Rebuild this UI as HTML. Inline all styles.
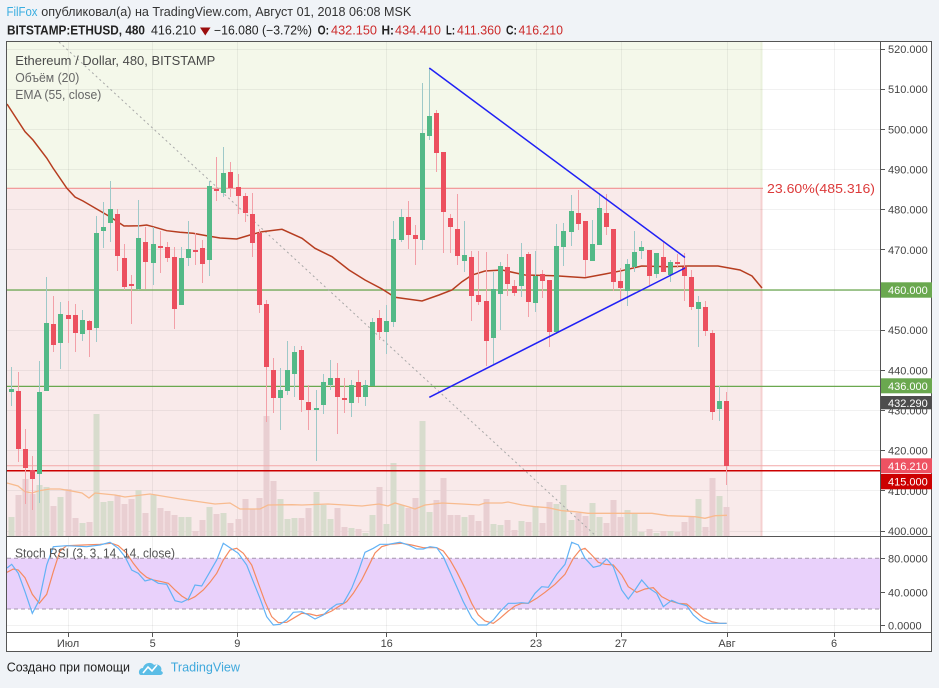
<!DOCTYPE html>
<html><head><meta charset="utf-8"><style>
html,body{margin:0;padding:0;background:#f0f3f7;}
svg{display:block;font-family:"Liberation Sans","Noto Sans CJK JP",sans-serif;}
</style></head><body>
<svg width="939" height="688" viewBox="0 0 939 688" xmlns="http://www.w3.org/2000/svg">
<rect x="0" y="0" width="939" height="688" fill="#f0f3f7"/>
<!-- header -->
<text x="6.5" y="16" font-size="12.5" fill="#3aaee0" textLength="31" lengthAdjust="spacingAndGlyphs">FilFox</text>
<text x="41.3" y="16" font-size="12.5" fill="#333" textLength="370" lengthAdjust="spacingAndGlyphs">опубликовал(а) на TradingView.com, Август 01, 2018 06:08 MSK</text>
<text x="7" y="34.3" font-size="12.5" font-weight="bold" fill="#222" textLength="138" lengthAdjust="spacingAndGlyphs">BITSTAMP:ETHUSD, 480</text>
<text x="151" y="34.3" font-size="12.5" fill="#222" textLength="45" lengthAdjust="spacingAndGlyphs">416.210</text>
<polygon points="200,27.5 210.5,27.5 205.25,35.5" fill="#9b0d0d"/>
<text x="214" y="34.3" font-size="12.5" fill="#222" textLength="98" lengthAdjust="spacingAndGlyphs">−16.080 (−3.72%)</text>
<text x="317.6" y="34.3" font-size="12.5" font-weight="bold" fill="#222" textLength="11.4" lengthAdjust="spacingAndGlyphs">O:</text>
<text x="331" y="34.3" font-size="12.5" fill="#cc2a2a" textLength="46" lengthAdjust="spacingAndGlyphs">432.150</text>
<text x="381.5" y="34.3" font-size="12.5" font-weight="bold" fill="#222" textLength="12.5" lengthAdjust="spacingAndGlyphs">H:</text>
<text x="395" y="34.3" font-size="12.5" fill="#cc2a2a" textLength="46" lengthAdjust="spacingAndGlyphs">434.410</text>
<text x="446" y="34.3" font-size="12.5" font-weight="bold" fill="#222" textLength="9" lengthAdjust="spacingAndGlyphs">L:</text>
<text x="457" y="34.3" font-size="12.5" fill="#cc2a2a" textLength="44" lengthAdjust="spacingAndGlyphs">411.360</text>
<text x="506" y="34.3" font-size="12.5" font-weight="bold" fill="#222" textLength="11" lengthAdjust="spacingAndGlyphs">C:</text>
<text x="518.5" y="34.3" font-size="12.5" fill="#cc2a2a" textLength="44.5" lengthAdjust="spacingAndGlyphs">416.210</text>

<!-- chart background -->
<rect x="6.5" y="41.5" width="925" height="610" fill="#ffffff"/>
<!-- zones -->
<rect x="7" y="42" width="755" height="146.3" fill="#f4f8ea"/>
<rect x="7" y="188.3" width="755" height="347.7" fill="#f9eaea"/>
<line x1="761.5" y1="188.3" x2="761.5" y2="536" stroke="#f5d0d0" stroke-width="2"/>
<line x1="761.5" y1="42" x2="761.5" y2="188.3" stroke="#eaf1dc" stroke-width="2"/>

<!-- grid -->
<g stroke="#000" stroke-opacity="0.055" stroke-width="1">
<path d="M7 49.5H880 M7 89.5H880 M7 129.5H880 M7 169.5H880 M7 209.5H880 M7 249.5H880 M7 290.5H880 M7 330.5H880 M7 370.5H880 M7 410.5H880 M7 450.5H880 M7 490.5H880 M7 531.5H880"/>
<path d="M68.5 42V632 M152.5 42V632 M237.5 42V632 M386.5 42V632 M536.5 42V632 M621.5 42V632 M727.5 42V632 M834.5 42V632"/>
<path d="M7 592.5H880 M7 625.5H880"/>
</g>

<!-- volume -->
<path fill="none" stroke="#d8dccd" stroke-width="6" d="M11.5 517V536 M39.5 485V536 M46.5 487V536 M60.5 497V536 M82.5 523V536 M96.5 414V536 M103.5 502V536 M110.5 501V536 M138.5 490V536 M153.5 495V536 M181.5 517V536 M188.5 517V536 M209.5 507V536 M223.5 513V536 M280.5 499V536 M287.5 519V536 M294.5 518V536 M316.5 492V536 M323.5 505V536 M330.5 519V536 M351.5 528V536 M365.5 533V536 M372.5 515V536 M386.5 524V536 M393.5 463V536 M401.5 505V536 M422.5 421V536 M429.5 512V536 M464.5 517V536 M493.5 524V536 M500.5 525V536 M521.5 521V536 M535.5 506V536 M556.5 504V536 M563.5 485V536 M571.5 520V536 M592.5 503V536 M599.5 517V536 M627.5 510V536 M634.5 514V536 M641.5 532V536 M656.5 533V536 M670.5 531V536 M698.5 499V536 M719.5 496V536"/>
<path fill="none" stroke="#e9cfd2" stroke-width="6" d="M18.5 495V536 M25.5 479V536 M32.5 494V536 M53.5 506V536 M68.5 489V536 M75.5 518V536 M89.5 522V536 M117.5 495V536 M124.5 504V536 M131.5 499V536 M145.5 513V536 M160.5 508V536 M167.5 511V536 M174.5 515V536 M195.5 531V536 M202.5 520V536 M216.5 514V536 M230.5 523V536 M238.5 519V536 M245.5 499V536 M252.5 509V536 M259.5 498V536 M266.5 416V536 M273.5 481V536 M301.5 518V536 M308.5 508V536 M337.5 508V536 M344.5 527V536 M358.5 529V536 M379.5 487V536 M408.5 508V536 M415.5 498V536 M436.5 500V536 M443.5 478V536 M450.5 515V536 M457.5 515V536 M471.5 515V536 M478.5 521V536 M486.5 499V536 M507.5 520V536 M514.5 530V536 M528.5 522V536 M542.5 523V536 M549.5 502V536 M578.5 513V536 M585.5 516V536 M606.5 523V536 M613.5 500V536 M620.5 517V536 M649.5 529V536 M663.5 531V536 M677.5 532V536 M684.5 522V536 M691.5 517V536 M705.5 527V536 M712.5 478V536 M726.5 507V536"/>
<polyline fill="none" stroke="#f8bb8f" stroke-width="1.3" points="7,483 18,486 25,491.7 32,493 39,490.7 50,489 60,489 70,490.7 82,493 89,498 95,493 115,495 125,497 150,494 180,499 215,504 230,503 240,509 260,509 268,505 292,504.7 302,505 328,504 362,506 379,504 388,506 395,503 409,507 415,509 425,505 442,503 462,504 479,505 485,503 502,503 508,502 522,505 535,506.7 548,507.7 562,510.7 575,511.7 588,513.3 612,513.3 652,513.3 668,515.7 695,516.7 705,518.3 715,515.7 727,515.3"/>

<!-- horizontal levels -->
<line x1="7" y1="188.3" x2="763" y2="188.3" stroke="#f09090" stroke-width="1.2"/>
<text x="767" y="193" font-size="13" fill="#dc3a3a" textLength="108" lengthAdjust="spacingAndGlyphs">23.60%(485.316)</text>
<line x1="7" y1="290" x2="881" y2="290" stroke="#6aa84f" stroke-width="1.2"/>
<line x1="7" y1="386.4" x2="881" y2="386.4" stroke="#6aa84f" stroke-width="1.2"/>
<line x1="7" y1="465.8" x2="881" y2="465.8" stroke="#f4a8a8" stroke-width="1"/>
<line x1="7" y1="470.8" x2="881" y2="470.8" stroke="#cc0000" stroke-width="1.5"/>

<!-- dashed diagonal -->
<line x1="59" y1="42" x2="596" y2="536" stroke="#a8a8a8" stroke-width="1" stroke-dasharray="2,3"/>

<!-- EMA -->
<polyline fill="none" stroke="#b63d20" stroke-width="1.5" points="7,104 25,131.7 33,140 46.7,158 53,168 66.7,188 75,197 83,201 96.7,209 110,216.7 124,226 140,225.7 146.7,225 153,226.7 166.7,230.7 180,232.3 193,233.3 206.7,235.7 220,238 236.7,239 250,235 262,231.7 282,229.3 302,238.3 315,248.3 332,256.7 349,270 365,280 382,289 395,297.3 402,298.3 422,301 439,295 452,290 462,281.7 472,275 485,271 502,270 525,275 555,275.7 585,277.7 605,274 621.7,270.7 641.7,266 668,266.7 688,266 718,266 740,270 752,276 762,288"/>

<!-- candles: wicks -->
<path fill="none" stroke="#9ec9c9" stroke-width="1" d="M11.5 367V406 M39.5 361V503 M46.5 277V391 M60.5 302V369 M82.5 310V341 M96.5 216V342 M103.5 202V248 M110.5 181V242 M138.5 200V290 M153.5 227V285 M181.5 247V305 M188.5 221V266 M209.5 181V276 M223.5 147V197 M280.5 368V430 M287.5 341V395 M294.5 346V397 M316.5 390V461 M323.5 374V414 M330.5 360V390 M351.5 380V417 M365.5 380V406 M372.5 318V386 M386.5 305V354 M393.5 221V327 M401.5 209V242 M422.5 83V250 M429.5 68V140 M464.5 221V272 M493.5 272V364 M500.5 262V330 M521.5 243V297 M535.5 251V312 M556.5 224V334 M563.5 223V266 M571.5 195V246 M592.5 220V261 M599.5 193V245 M627.5 259V306 M634.5 231V272 M641.5 241V259 M656.5 253V278 M670.5 260V282 M698.5 296V347 M719.5 386V421"/>
<path fill="none" stroke="#f3a0a8" stroke-width="1" d="M18.5 372V462 M25.5 429V504 M32.5 456V510 M53.5 296V352 M68.5 301V343 M75.5 304V352 M89.5 320V357 M117.5 209V271 M124.5 244V290 M131.5 275V324 M145.5 227V289 M160.5 231V273 M167.5 242V262 M174.5 247V329 M195.5 233V265 M202.5 240V283 M216.5 157V201 M230.5 162V197 M238.5 174V214 M245.5 193V222 M252.5 193V257 M259.5 229V313 M266.5 300V422 M273.5 358V413 M301.5 346V412 M308.5 385V430 M337.5 363V434 M344.5 378V413 M358.5 370V403 M379.5 310V340 M408.5 201V249 M415.5 225V265 M436.5 110V172 M443.5 152V253 M450.5 214V253 M457.5 194V265 M471.5 251V321 M478.5 251V305 M486.5 252V366 M507.5 254V296 M514.5 280V296 M528.5 252V317 M542.5 270V298 M549.5 280V347 M578.5 190V230 M585.5 221V277 M606.5 194V235 M613.5 229V291 M620.5 268V301 M649.5 250V285 M663.5 241V272 M677.5 254V268 M684.5 253V301 M691.5 270V310 M705.5 301V336 M712.5 330V420 M726.5 392V485"/>
<!-- bodies -->
<path fill="#53b987" d="M9 389h5V392h-5z M37 392h5V474h-5z M44 323h5V391h-5z M58 314h5V343h-5z M80 320h5V334h-5z M94 233h5V328h-5z M101 227h5V231h-5z M108 209h5V223h-5z M136 238h5V289h-5z M151 244h5V263h-5z M179 258h5V305h-5z M186 249h5V258h-5z M207 186h5V260h-5z M221 173h5V193h-5z M278 390h5V398h-5z M285 370h5V391h-5z M292 352h5V374h-5z M314 408h5V410h-5z M321 382h5V405h-5z M328 378h5V385h-5z M349 385h5V403h-5z M363 385h5V397h-5z M370 322h5V386h-5z M384 321h5V332h-5z M391 239h5V322h-5z M399 217h5V240h-5z M420 133h5V240h-5z M427 116h5V136h-5z M462 255h5V261h-5z M491 289h5V338h-5z M498 266h5V294h-5z M519 257h5V286h-5z M533 276h5V303h-5z M554 246h5V332h-5z M561 231h5V247h-5z M569 211h5V232h-5z M590 244h5V261h-5z M597 208h5V245h-5z M625 264h5V291h-5z M632 252h5V267h-5z M639 247h5V251h-5z M654 253h5V274h-5z M668 262h5V275h-5z M696 302h5V309h-5z M717 401h5V409h-5z"/>
<path fill="#ec4f5e" d="M16 391h5V449h-5z M23 449h5V468h-5z M30 470h5V479h-5z M51 324h5V345h-5z M66 315h5V319h-5z M73 315h5V333h-5z M87 321h5V330h-5z M115 214h5V256h-5z M122 258h5V287h-5z M129 284h5V286h-5z M143 242h5V262h-5z M158 246h5V248h-5z M165 247h5V258h-5z M172 257h5V309h-5z M193 250h5V252h-5z M200 248h5V264h-5z M214 189h5V191h-5z M228 172h5V188h-5z M236 187h5V196h-5z M243 196h5V213h-5z M250 214h5V243h-5z M257 233h5V305h-5z M264 304h5V367h-5z M271 370h5V398h-5z M299 350h5V400h-5z M306 402h5V410h-5z M335 378h5V397h-5z M342 398h5V400h-5z M356 382h5V397h-5z M377 318h5V332h-5z M406 217h5V235h-5z M413 235h5V239h-5z M434 113h5V153h-5z M441 152h5V212h-5z M448 218h5V227h-5z M455 229h5V256h-5z M469 257h5V296h-5z M476 295h5V302h-5z M484 301h5V341h-5z M505 267h5V284h-5z M512 286h5V293h-5z M526 254h5V302h-5z M540 274h5V281h-5z M547 280h5V332h-5z M576 213h5V224h-5z M583 221h5V260h-5z M604 213h5V227h-5z M611 229h5V282h-5z M618 281h5V288h-5z M647 250h5V276h-5z M661 257h5V272h-5z M675 262h5V264h-5z M682 267h5V276h-5z M689 277h5V307h-5z M703 307h5V331h-5z M710 333h5V412h-5z M724 401h5V466h-5z"/>

<!-- blue triangle lines -->
<line x1="429.3" y1="68" x2="685" y2="257.5" stroke="#2020f5" stroke-width="1.5"/>
<line x1="429.3" y1="397.3" x2="685" y2="268" stroke="#2020f5" stroke-width="1.5"/>

<!-- legend -->
<text x="15.3" y="65" font-size="12.5" fill="#4a4a4a" textLength="200" lengthAdjust="spacingAndGlyphs">Ethereum / Dollar, 480, BITSTAMP</text>
<text x="15.3" y="82" font-size="12.5" fill="#666" textLength="64" lengthAdjust="spacingAndGlyphs">Объём (20)</text>
<text x="15.3" y="99" font-size="12.5" fill="#666" textLength="86" lengthAdjust="spacingAndGlyphs">EMA (55, close)</text>

<!-- stoch pane -->
<rect x="7" y="558.3" width="873" height="50.7" fill="#e9d1fb"/>
<line x1="7" y1="558.3" x2="880" y2="558.3" stroke="#a597ad" stroke-width="1" stroke-dasharray="4,3"/>
<line x1="7" y1="609" x2="880" y2="609" stroke="#a597ad" stroke-width="1" stroke-dasharray="4,3"/>
<polyline fill="none" stroke="#f58a60" stroke-width="1.2" points="7,572.3 13.3,569 18.3,570 25,577.7 32.3,594.3 39.3,603.3 46.7,594.3 53.3,571.7 60,551 66.7,545.7 83.3,545 100,544.3 111.7,543.3 118.3,545.7 126.7,553.3 133.3,563.3 140,571.7 146.7,577.3 153.3,580 161.7,581.7 168.3,583.3 175,590 181.7,596 188.3,600 195,596.7 203.3,590 210,582.3 216.7,573.3 223.3,560 230,550 236.7,548.3 243.3,553.3 251.7,565 258.3,583.3 265,601.7 271.7,616.7 278.3,622.7 286.7,622.3 293.3,618.3 301.7,613.3 310,614 316.7,615.7 325,614 331.7,611 338.3,606.7 346.7,601.7 353.3,593.3 361.7,580 368.3,566.7 375,553 381.7,546.7 390,544.3 401.7,543.3 411.7,545 423.3,547.7 436.7,547.7 443.3,551 450,560 456.7,571.7 465,588.3 471.7,603.3 478.3,615 485,621 493.3,623.3 500,618.3 508.3,611 515,606 521.7,603.3 528.3,603.3 536.7,598.3 545,592.3 555,584.3 565,574.3 573.3,558.3 580,550 585,548.3 591.7,555 598.3,562.3 605,564.3 613.3,565 621.7,575 628.3,586.7 636.7,592.3 645,589 653.3,587.7 661.7,596.7 670,601 678.3,603.3 686.7,604 695,611 703.3,617.7 711.7,621.7 720,623.3 726.7,623.3"/>
<polyline fill="none" stroke="#62b2f5" stroke-width="1.2" points="7,568 11.7,564.3 18.3,573.3 25,591.7 32.3,613.3 39.3,600 46.7,565 53.3,546.7 66.7,545.7 86.7,546.7 100,545 110,542.3 118.3,548.3 125,556.7 131.7,570 138.3,573.3 145,581 151.7,579.3 158.3,583.3 166.7,584.3 175,600.7 181.7,602.3 188.3,599 195,585 201.7,586 210,571.7 216.7,560 223.3,543.3 230,547.7 238.3,553.3 246.7,565 253.3,581.7 260,598.3 266.7,616.7 273.3,625 280,624.3 286.7,620 293.3,612.3 301.7,611.7 308.3,615 315,619 323.3,615 330,609 336.7,604.3 343.3,603.3 351.7,588.3 358.3,571.7 365,552.3 373.3,548.3 380,544.3 388.3,544.3 400,542.3 408.3,545 416.7,549 423.3,549 430,546.7 436.7,547.7 443.3,556.7 450,571.7 456.7,586.7 463.3,601.7 471.7,617.7 478.3,625 486.7,625 493.3,620 500,611.7 508.3,603.3 515,603.3 521.7,602.7 528.3,603.3 535,593.3 541.7,586.7 548.3,587.3 556.7,574.3 565,564.3 571.7,542.3 578.3,545 585,558.3 593.3,567.3 600,565.7 606.7,559 613.3,566.7 621.7,590 628.3,599 635,590 641.7,580 648.3,587.7 656.7,593.3 663.3,606.7 671.7,600.3 678.3,603.3 686.7,605.7 693.3,615 700,620.7 706.7,623.3 726.7,623.3"/>
<text x="15" y="557.7" font-size="12.5" fill="#555" textLength="160" lengthAdjust="spacingAndGlyphs">Stoch RSI (3, 3, 14, 14, close)</text>

<!-- frame & axes -->
<rect x="6.5" y="41.5" width="925" height="610" fill="none" stroke="#555" stroke-width="1"/>
<line x1="880.5" y1="41.5" x2="880.5" y2="632.5" stroke="#555" stroke-width="1"/>
<line x1="6.5" y1="536.5" x2="931.5" y2="536.5" stroke="#555" stroke-width="1"/>
<line x1="6.5" y1="632.5" x2="931.5" y2="632.5" stroke="#555" stroke-width="1"/>

<!-- price axis ticks & labels -->
<path stroke="#555" stroke-width="1" d="M881 49.5h4 M881 89.5h4 M881 129.5h4 M881 169.5h4 M881 209.5h4 M881 249.5h4 M881 330.5h4 M881 370.5h4 M881 410.5h4 M881 450.5h4 M881 490.5h4 M881 531.5h4 M881 558.5h4 M881 592.5h4 M881 625.5h4"/>
<g font-size="11" fill="#444">
<text x="888" y="53">520.000</text>
<text x="888" y="93.2">510.000</text>
<text x="888" y="133.3">500.000</text>
<text x="888" y="173.5">490.000</text>
<text x="888" y="213.7">480.000</text>
<text x="888" y="253.9">470.000</text>
<text x="888" y="334.2">450.000</text>
<text x="888" y="374.4">440.000</text>
<text x="888" y="414.5">430.000</text>
<text x="888" y="454.7">420.000</text>
<text x="888" y="494.9">410.000</text>
<text x="888" y="535">400.000</text>
<text x="888" y="562.7">80.0000</text>
<text x="888" y="596.3">40.0000</text>
<text x="888" y="629.7">0.0000</text>
</g>
<!-- tags -->
<rect x="881" y="282.3" width="51" height="15.4" fill="#6aa84f"/>
<rect x="881" y="378.3" width="51" height="15" fill="#6aa84f"/>
<rect x="881" y="396" width="51" height="13.3" fill="#4d4d4d"/>
<rect x="881" y="458.3" width="51" height="15" fill="#ee5262"/>
<rect x="881" y="474" width="51" height="15.3" fill="#cc0000"/>
<g font-size="11" fill="#fff">
<text x="888" y="294">460.000</text>
<text x="888" y="390">436.000</text>
<text x="888" y="406.8">432.290</text>
<text x="888" y="470">416.210</text>
<text x="888" y="485.7">415.000</text>
</g>

<!-- time axis -->
<path stroke="#555" stroke-width="1" d="M68.5 633v4 M152.5 633v4 M237.5 633v4 M386.5 633v4 M536.5 633v4 M621.5 633v4 M727.5 633v4 M834.5 633v4"/>
<g font-size="11" fill="#444" text-anchor="middle">
<text x="68" y="647">Июл</text>
<text x="152.7" y="647">5</text>
<text x="237.3" y="647">9</text>
<text x="386.7" y="647">16</text>
<text x="536" y="647">23</text>
<text x="621" y="647">27</text>
<text x="727" y="647">Авг</text>
<text x="834" y="647">6</text>
</g>

<!-- footer -->
<text x="6.7" y="671.7" font-size="13" fill="#222" textLength="123.3" lengthAdjust="spacingAndGlyphs">Создано при помощи</text>
<g>
<path d="M141 675 C138 675 138 668 143 668 C144 663 151 661 154 665 C158 663 163 667 161 671 C164 672 163 675 160 675 Z" fill="#5bbde6"/>
<polyline points="143,673 148,667 152,671 157,665" fill="none" stroke="#ffffff" stroke-width="1.6"/>
</g>
<text x="170.7" y="671.7" font-size="13" fill="#3ea8dc" textLength="69.3" lengthAdjust="spacingAndGlyphs">TradingView</text>
</svg>
</body></html>
